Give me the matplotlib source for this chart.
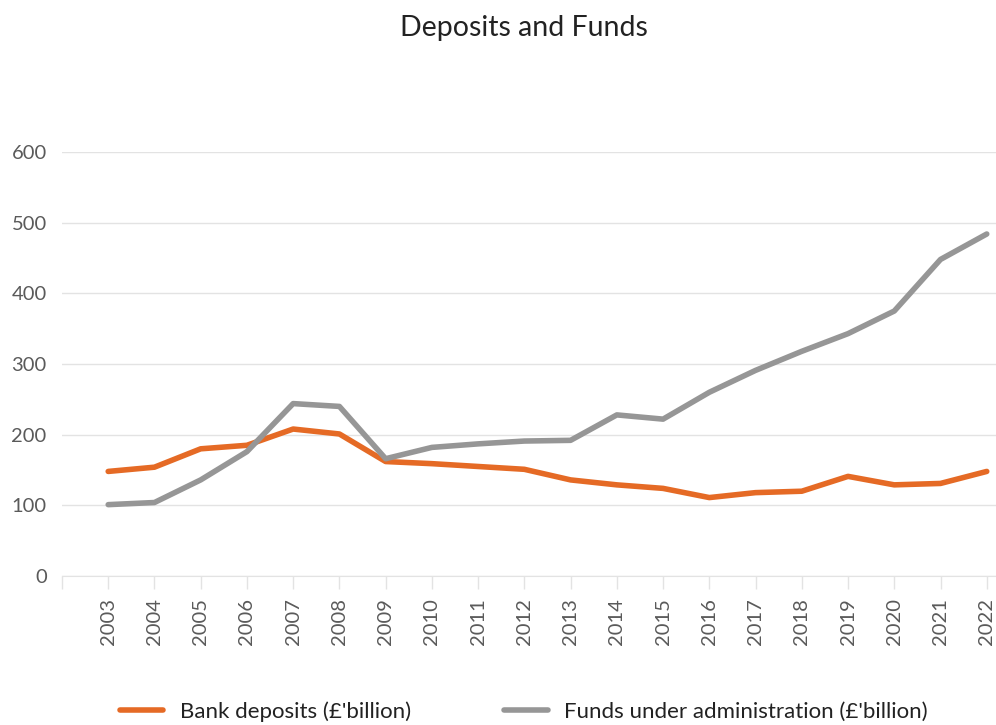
import matplotlib.pyplot as plt

plt.rcParams["font.family"] = ["Lato", "DejaVu Sans"]

color_bank  = "#E56A25"
color_funds = "#969696"
color_text  = "#5a5a5a"
color_grid  = "#e3e3e3"

years = list(range(2003, 2023))
bank_deposits = [148, 154, 180, 185, 208, 201, 162, 159, 155, 151,
                 136, 129, 124, 111, 118, 120, 141, 129, 131, 148]
funds_admin = [101, 104, 136, 176, 244, 240, 166, 182, 187, 191,
               192, 228, 222, 260, 291, 318, 343, 375, 448, 484]

fig = plt.figure(figsize=(9.96, 7.25), dpi=100)
ax = fig.add_axes([0.0622, 0.2055, 0.9378, 0.5848])

ax.plot(years, bank_deposits, color=color_bank, lw=4, solid_capstyle="round",
        solid_joinstyle="round", label="Bank deposits (£'billion)", clip_on=False)
ax.plot(years, funds_admin, color=color_funds, lw=4, solid_capstyle="round",
        solid_joinstyle="round", label="Funds under administration (£'billion)", clip_on=False)

ax.set_xlim(2002, 2022.2)
ax.set_ylim(0, 600)
ax.set_yticks(range(0, 601, 100))
ax.set_xticks(range(2002, 2023))
ax.set_xticklabels([""] + [str(y) for y in years], rotation=90)

ax.grid(axis="y", color=color_grid, lw=1)
ax.set_axisbelow(True)
for side in ["left", "right", "top"]:
    ax.spines[side].set_visible(False)
ax.spines["bottom"].set_color(color_grid)
ax.tick_params(axis="y", length=0, pad=11, labelsize=14.5, labelcolor=color_text)
ax.tick_params(axis="x", length=9, width=1, color=color_grid, pad=7,
               labelsize=14.5, labelcolor=color_text)

fig.text(0.526, 0.962, "Deposits and Funds", ha="center", va="center",
         fontsize=20.5, color="#222222")

fig.legend(loc="center", bbox_to_anchor=(0.526, 0.019), ncol=2, frameon=False,
           fontsize=16, handlelength=1.95, handletextpad=0.75, columnspacing=4.2,
           labelcolor="#222222")

plt.savefig("out.png", dpi=100)
